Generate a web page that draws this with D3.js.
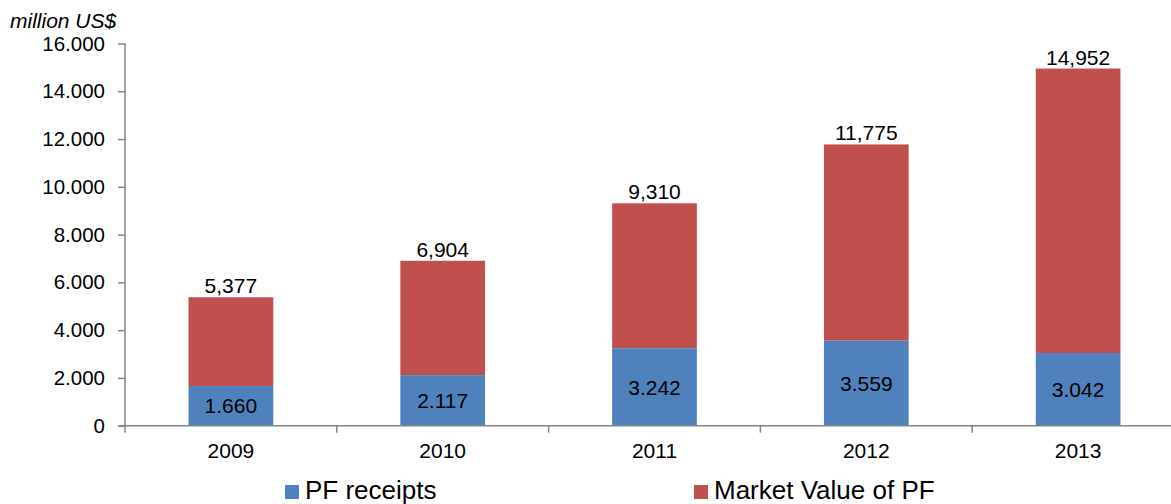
<!DOCTYPE html>
<html>
<head>
<meta charset="utf-8">
<script src="https://cdn.jsdelivr.net/npm/d3@7"></script>
<style>
  body { margin: 0; background: #fff; }
  text { font-family: "Liberation Sans", Arial, sans-serif; fill: #000; }
</style>
</head>
<body>
<div id="chart"></div>
<script>
// chart values
const years = ["2009", "2010", "2011", "2012", "2013"];
const pfReceipts = [1660, 2117, 3242, 3559, 3042];
const totals = [5377, 6904, 9310, 11775, 14952];
const yTicks = [0, 2000, 4000, 6000, 8000, 10000, 12000, 14000, 16000];

const W = 1171, H = 504;
const blue = "#4F81BD", red = "#C0504D", axisGray = "#868686";

const svg = d3.select("#chart").append("svg")
    .attr("width", W)
    .attr("height", H);

// x band scale (plot runs past the right edge, as in the original crop)
const x = d3.scaleBand()
    .domain(years)
    .range([125, 1184])
    .paddingInner(0.6)
    .paddingOuter(0.3);

const y = d3.scaleLinear()
    .domain([0, 16000])
    .range([425.7, 43.5]);

const fmtDot = d => d3.format(",")(d).replace(/,/g, ".");

// Y axis
const yAxis = svg.append("g")
    .attr("transform", "translate(125,0)")
    .call(d3.axisLeft(y).tickValues(yTicks).tickSize(7).tickFormat(fmtDot));
yAxis.select(".domain").attr("stroke", axisGray).attr("stroke-width", 1.5)
    .attr("d", `M0,${y(16000)}V${y(0)}`);
yAxis.selectAll(".tick line").attr("stroke", axisGray).attr("stroke-width", 1.5);
yAxis.selectAll(".tick text")
    .attr("x", -20)
    .style("font-size", "20.5px")
    .style("font-family", "'Liberation Sans', Arial, sans-serif")
    .attr("fill", "#000");

// bars
const rows = years.map((yr, i) => ({ yr, pf: pfReceipts[i], total: totals[i] }));

svg.selectAll("rect.mv")
    .data(rows)
    .enter().append("rect")
    .attr("class", "mv")
    .attr("x", d => x(d.yr))
    .attr("width", x.bandwidth())
    .attr("y", d => y(d.total))
    .attr("height", d => y(d.pf) - y(d.total))
    .attr("fill", red);

svg.selectAll("rect.pf")
    .data(rows)
    .enter().append("rect")
    .attr("class", "pf")
    .attr("x", d => x(d.yr))
    .attr("width", x.bandwidth())
    .attr("y", d => y(d.pf))
    .attr("height", d => y(0) - y(d.pf))
    .attr("fill", blue);

// X axis
const xAxisG = svg.append("g").attr("transform", `translate(0,${y(0)})`);
xAxisG.append("line")
    .attr("x1", 119).attr("x2", W)
    .attr("stroke", axisGray).attr("stroke-width", 1.5);
const bounds = years.map(yr => x(yr) - x.step() * x.paddingInner() / 2);
xAxisG.selectAll("line.tk")
    .data(bounds)
    .enter().append("line")
    .attr("class", "tk")
    .attr("x1", d => d).attr("x2", d => d)
    .attr("y1", 0).attr("y2", 7)
    .attr("stroke", axisGray).attr("stroke-width", 1.5);
xAxisG.selectAll("text")
    .data(years)
    .enter().append("text")
    .attr("x", d => x(d) + x.bandwidth() / 2)
    .attr("y", 32.5)
    .attr("text-anchor", "middle")
    .style("font-size", "21px")
    .text(d => d);

// total labels
svg.selectAll("text.tot")
    .data(rows)
    .enter().append("text")
    .attr("class", "tot")
    .attr("x", d => x(d.yr) + x.bandwidth() / 2)
    .attr("y", d => y(d.total) - 4)
    .attr("text-anchor", "middle")
    .style("font-size", "21px")
    .text(d => d3.format(",")(d.total));

// pf labels
svg.selectAll("text.pfl")
    .data(rows)
    .enter().append("text")
    .attr("class", "pfl")
    .attr("x", d => x(d.yr) + x.bandwidth() / 2)
    .attr("y", d => (y(d.pf) + y(0)) / 2)
    .attr("dy", "0.36em")
    .attr("text-anchor", "middle")
    .style("font-size", "21px")
    .text(d => fmtDot(d.pf));

// unit title
svg.append("text")
    .attr("x", 10).attr("y", 28)
    .style("font-size", "21px")
    .style("font-style", "italic")
    .text("million US$");

// legend
const legend = [
  { name: "PF receipts", color: blue, x: 285 },
  { name: "Market Value of PF", color: red, x: 694 }
];
const lg = svg.selectAll("g.lg").data(legend).enter().append("g")
    .attr("transform", d => `translate(${d.x},485)`);
lg.append("rect").attr("width", 14).attr("height", 14).attr("fill", d => d.color);
lg.append("text").attr("x", 20).attr("y", 14)
    .style("font-size", "26px")
    .text(d => d.name);
</script>
</body>
</html>
